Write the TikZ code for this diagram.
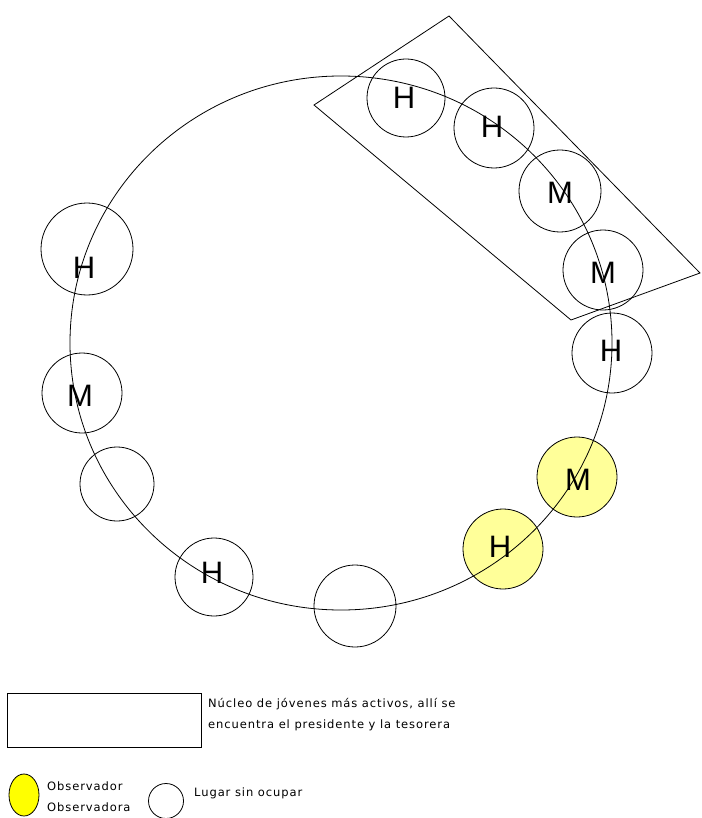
\documentclass[tikz,border=0pt]{standalone}
\usepackage{fontspec}
\usetikzlibrary{shapes.geometric}
\setmainfont{Liberation Sans}
\newfontfamily\legendfont[LetterSpace=8]{DejaVu Sans}
\definecolor{seatyellow}{HTML}{FFFF99}
\definecolor{legyellow}{HTML}{FFFF00}
\begin{document}
\begin{tikzpicture}[x=1pt,y=-1pt,
  seat/.style={circle,draw=black,line width=0.8pt,inner sep=0pt,minimum size=#1},
  seat/.default=80pt,
  obs/.style={fill=seatyellow},
  letter/.style={inner sep=0pt,font=\fontsize{31}{31}\selectfont},
  legtext/.style={inner sep=0pt,anchor=west,align=left,font=\legendfont\fontsize{11.5}{21}\selectfont},
  thin/.style={line width=0.8pt}]
\useasboundingbox (0,0) rectangle (701,818);
% seats
\node[seat=78pt] (s1) at (406,98) {};
\node[seat=80pt] (s2) at (494,128) {};
\node[seat=82pt] (s3) at (560,191) {};
\node[seat=80pt] (s4) at (603,270) {};
\node[seat=80pt] (s5) at (612,353) {};
\node[seat=80pt,obs] (s6) at (577,477) {};
\node[seat=80pt,obs] (s7) at (503,549) {};
\node[seat=82pt] (s8) at (355,606) {};
\node[seat=78pt] (s9) at (214,577) {};
\node[seat=74pt] (s10) at (117,484) {};
\node[seat=80pt] (s11) at (82,393) {};
\node[seat=92pt] (s12) at (87,249) {};
% ring
\draw[thin] (341,343) ellipse [x radius=271, y radius=267];
% core group box
\coordinate (qa) at (314,105);
\coordinate (qd) at (449,16);
\coordinate (qc) at (700,273);
\coordinate (qb) at (571,320);
\draw[thin] (qa) -- (qd) -- (qc) -- (qb) -- cycle;
% letters
\node[letter] (l1) at (404,98) {H};
\node[letter] (l2) at (492,127) {H};
\node[letter] (l3) at (560,193) {M};
\node[letter] (l4) at (603,273) {M};
\node[letter] (l5) at (611,351) {H};
\node[letter] (l6) at (578,480) {M};
\node[letter] (l7) at (500,547) {H};
\node[letter] (l9) at (212,573) {H};
\node[letter] (l11) at (80,396) {M};
\node[letter] (l12) at (84,268) {H};
% legend
\draw[thin] (7,693) rectangle (201,747);
\node[legtext] (t1) at (208,715) {Núcleo de jóvenes más activos, allí se\\encuentra el presidente y la tesorera};
\node[ellipse,draw=black,thin,fill=legyellow,minimum width=30pt,minimum height=42pt,inner sep=0pt] (e1) at (24,795) {};
\node[legtext] (t2) at (47,797) {Observador\\Observadora};
\node[circle,draw=black,thin,minimum size=35pt,inner sep=0pt] (e2) at (166,801) {};
\node[legtext] (t3) at (194,793) {Lugar sin ocupar};
\end{tikzpicture}
\end{document}
